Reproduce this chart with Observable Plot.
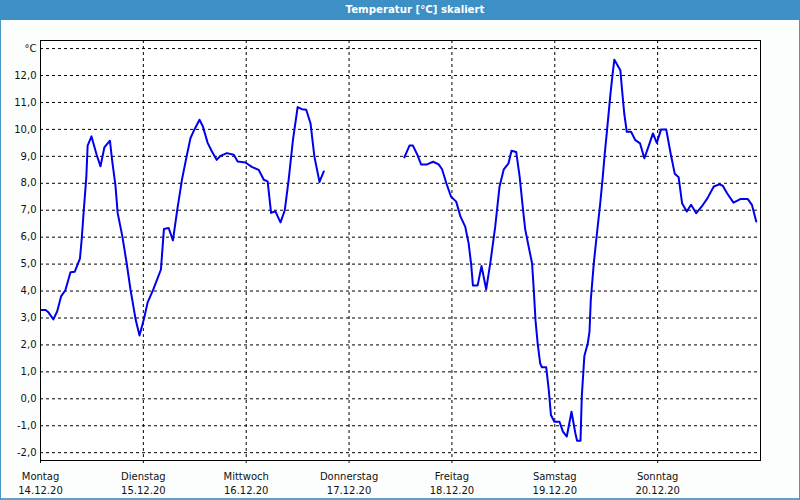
<!DOCTYPE html>
<html>
<head>
<meta charset="utf-8">
<script src="https://cdn.jsdelivr.net/npm/d3@7"></script>
<script src="https://cdn.jsdelivr.net/npm/@observablehq/plot@0.6"></script>
<style>
  html, body { margin: 0; padding: 0; background: #fcfefe; }
  #win { position: relative; width: 800px; height: 500px; background: #fcfefe;
         box-shadow: inset 1px 0 #4a95c8, inset -1px 0 #4a95c8, inset 0 -2px #6a9fc4; overflow: hidden; }
  #title { position: absolute; left: 0; top: 0; width: 800px; height: 20px; background: #3d90c6;
           color: #fff; font: bold 10.2px "DejaVu Sans", sans-serif; line-height: 20px; text-align: center;
           box-sizing: border-box; padding-left: 30px; }
  #chart { position: absolute; left: 0; top: 20px; }
</style>
</head>
<body>
<div id="win">
  <div id="title">Temperatur [°C] skaliert</div>
  <div id="chart"></div>
</div>
<script>
// hours since Monday 14.12.20 00:00
const hours = [
  0.2,1.2,1.9,3.0,3.9,4.8,5.8,7.0,8.0,9.2,
  9.6,10.1,10.7,11.0,11.9,13.1,14.0,14.9,16.2,16.7,
  17.5,18.0,19.1,20.1,21.0,22.2,23.1,24.1,25.0,26.3,
  27.2,28.1,28.8,29.9,30.9,31.9,33.0,34.1,35.0,35.9,
  37.1,37.9,39.0,40.0,41.1,42.0,43.5,45.1,46.0,47.8,
  49.4,50.9,52.1,53.0,53.8,54.8,56.0,57.0,57.9,58.9,
  60.0,61.0,62.0,63.0,63.9,65.1,66.1,
  75.0,
  84.9,86.1,86.9,87.9,88.8,90.2,91.6,92.9,93.7,94.7,
  95.8,97.0,98.0,99.1,99.9,100.5,100.9,102.0,102.9,104.0,
  105.0,106.1,107.1,108.1,109.2,109.9,111.0,111.8,112.6,113.1,
  113.9,114.7,115.1,115.5,116.0,116.6,117.0,118.0,118.6,119.1,
  119.9,121.1,121.9,122.8,123.9,124.8,125.2,126.0,126.3,126.9,
  127.7,128.1,128.4,129.1,129.8,130.6,131.2,131.6,132.2,133.0,
  133.5,133.9,134.5,135.3,135.7,136.2,136.8,137.8,138.8,139.9,
  140.9,141.9,142.9,143.8,144.8,146.0,147.1,148.0,148.9,149.7,
  150.8,151.8,153.0,154.3,155.6,157.1,158.4,159.2,160.2,161.7,
  163.4,165.0,166.0,167.0
];
const temps = [
  3.3,3.3,3.2,2.95,3.25,3.8,4.03,4.7,4.72,5.2,
  5.9,7.0,8.25,9.4,9.74,9.06,8.63,9.33,9.58,8.87,
  7.9,6.9,6.03,5.04,4.05,2.94,2.35,2.94,3.58,4.05,
  4.42,4.8,6.3,6.34,5.88,7.0,8.13,9.0,9.68,9.99,
  10.36,10.11,9.5,9.18,8.87,9.02,9.12,9.06,8.81,8.77,
  8.6,8.5,8.13,8.07,6.9,6.96,6.55,7.0,8.13,9.6,
  10.83,10.75,10.73,10.23,9.0,8.05,8.44,
  null,
  8.96,9.4,9.4,9.07,8.7,8.7,8.8,8.7,8.52,8.0,
  7.5,7.32,6.76,6.39,5.77,4.97,4.21,4.21,4.93,4.06,
  5.09,6.39,7.87,8.52,8.74,9.21,9.16,8.25,7.0,6.29,
  5.65,5.03,4.04,2.92,2.06,1.31,1.17,1.17,0.32,-0.6,
  -0.85,-0.85,-1.22,-1.4,-0.48,-1.28,-1.56,-1.56,0.08,1.59,
  2.06,2.49,3.67,5.03,6.08,7.25,8.25,9.0,9.98,11.33,
  12.07,12.59,12.42,12.2,11.46,10.6,9.91,9.91,9.6,9.48,
  8.93,9.38,9.85,9.5,10.0,10.0,9.05,8.35,8.22,7.26,
  6.95,7.2,6.89,7.14,7.44,7.88,7.96,7.91,7.63,7.28,
  7.42,7.42,7.2,6.58
];
const dayNames = ["Montag","Dienstag","Mittwoch","Donnerstag","Freitag","Samstag","Sonntag"];
const dayDates = ["14.12.20","15.12.20","16.12.20","17.12.20","18.12.20","19.12.20","20.12.20"];
const dayTicks = [0,24,48,72,96,120,144];
const yTicks = [-2,-1,0,1,2,3,4,5,6,7,8,9,10,11,12,13];
const yTickLabels = ["-2,0","-1,0","0,0","1,0","2,0","3,0","4,0","5,0","6,0","7,0","8,0","9,0","10,0","11,0","12,0","°C"];

const data = hours.map((h, i) => ({h, t: temps[i]}));

const chart = Plot.plot({
  width: 800,
  height: 480,
  marginLeft: 40,
  marginRight: 40,
  marginTop: 20,
  marginBottom: 40,
  style: {fontFamily: "DejaVu Sans, sans-serif", fontSize: "10px", color: "#111", background: "transparent", overflow: "visible"},
  x: {domain: [0, 168]},
  y: {domain: [-2.29, 13.3]},
  marks: [
    Plot.frame({fill: "white"}),
    Plot.gridY(yTicks, {stroke: "black", strokeOpacity: 1, strokeDasharray: "3,3"}),
    Plot.gridX(dayTicks.slice(1), {stroke: "black", strokeOpacity: 1, strokeDasharray: "3,3"}),
    Plot.axisY(yTicks, {tickSize: 0, tickPadding: 4, label: null,
      tickFormat: d => yTickLabels[yTicks.indexOf(d)]}),
    Plot.axisX(dayTicks, {tickSize: 3, tickPadding: 7, label: null, lineHeight: 1.35,
      tickFormat: d => dayNames[dayTicks.indexOf(d)] + "\n" + dayDates[dayTicks.indexOf(d)]}),
    Plot.line(data, {x: "h", y: "t", stroke: "#0000ee", strokeWidth: 2, curve: "linear"}),
    Plot.frame({stroke: "black"})
  ]
});
document.getElementById("chart").appendChild(chart);
</script>
</body>
</html>
